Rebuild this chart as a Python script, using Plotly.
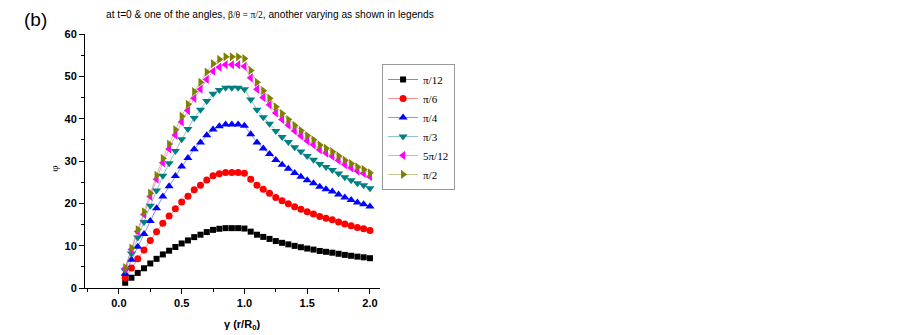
import plotly.graph_objects as go

gamma = [0.05, 0.10, 0.15, 0.20, 0.25, 0.30, 0.35, 0.40, 0.45, 0.50,
         0.55, 0.60, 0.65, 0.70, 0.75, 0.80, 0.85, 0.90, 0.95, 1.00,
         1.05, 1.10, 1.15, 1.20, 1.25, 1.30, 1.35, 1.40, 1.45, 1.50,
         1.55, 1.60, 1.65, 1.70, 1.75, 1.80, 1.85, 1.90, 1.95, 2.00]

phi_pi12 = [1.24, 2.43, 3.57, 4.66, 5.80, 6.89, 7.93, 8.81, 9.69, 10.52,
            11.24, 12.02, 12.59, 13.21, 13.73, 13.99, 14.14, 14.14, 14.14, 14.04,
            13.31, 12.59, 12.07, 11.60, 11.09, 10.67, 10.31, 9.95, 9.63, 9.32,
            9.07, 8.75, 8.55, 8.34, 8.08, 7.82, 7.61, 7.41, 7.25, 7.04]
phi_pi6 = [2.4, 4.7, 6.9, 9.0, 11.2, 13.3, 15.3, 17.0, 18.7, 20.3,
           21.7, 23.2, 24.3, 25.5, 26.5, 27.0, 27.3, 27.3, 27.3, 27.1,
           25.7, 24.3, 23.3, 22.4, 21.4, 20.6, 19.9, 19.2, 18.6, 18.0,
           17.5, 16.9, 16.5, 16.1, 15.6, 15.1, 14.7, 14.3, 14.0, 13.6]
phi_pi4 = [3.39, 6.65, 9.76, 12.73, 15.84, 18.81, 21.63, 24.04, 26.44, 28.70,
           30.68, 32.80, 34.36, 36.06, 37.47, 38.18, 38.60, 38.60, 38.60, 38.32,
           36.34, 34.36, 32.95, 31.67, 30.26, 29.13, 28.14, 27.15, 26.30, 25.45,
           24.75, 23.90, 23.33, 22.77, 22.06, 21.35, 20.79, 20.22, 19.80, 19.23]
phi_pi3 = [4.16, 8.14, 11.95, 15.59, 19.40, 23.04, 26.50, 29.44, 32.39, 35.16,
           37.58, 40.18, 42.09, 44.17, 45.90, 46.76, 47.28, 47.28, 47.28, 46.94,
           44.51, 42.09, 40.36, 38.80, 37.06, 35.68, 34.47, 33.25, 32.22, 31.18,
           30.31, 29.27, 28.58, 27.89, 27.02, 26.15, 25.46, 24.77, 24.25, 23.56]
phi_5pi12 = [4.64, 9.08, 13.33, 17.39, 21.64, 25.70, 29.56, 32.84, 36.13, 39.22,
             41.92, 44.82, 46.95, 49.27, 51.20, 52.16, 52.74, 52.74, 52.74, 52.36,
             49.65, 46.95, 45.02, 43.28, 41.34, 39.80, 38.45, 37.09, 35.94, 34.78,
             33.81, 32.65, 31.88, 31.11, 30.14, 29.17, 28.40, 27.63, 27.05, 26.28]
phi_pi2 = [4.8, 9.4, 13.8, 18.0, 22.4, 26.6, 30.6, 34.0, 37.4, 40.6,
           43.4, 46.4, 48.6, 51.0, 53.0, 54.0, 54.6, 54.6, 54.6, 54.2,
           51.4, 48.6, 46.6, 44.8, 42.8, 41.2, 39.8, 38.4, 37.2, 36.0,
           35.0, 33.8, 33.0, 32.2, 31.2, 30.2, 29.4, 28.6, 28.0, 27.2]

names = ["π/12", "π/6", "π/4", "π/3", "5π/12", "π/2"]
series = [phi_pi12, phi_pi6, phi_pi4, phi_pi3, phi_5pi12, phi_pi2]
colors = ["#000000", "#FF0000", "#0000FF", "#008080", "#FF00FF", "#808000"]
line_colors = ["rgba(0,0,0,0.45)", "rgba(255,0,0,0.45)", "rgba(0,0,255,0.45)",
               "rgba(0,128,128,0.45)", "rgba(255,0,255,0.45)", "rgba(128,128,0,0.45)"]
symbols = ["square", "circle", "triangle-up", "triangle-down", "triangle-left", "triangle-right"]
sizes = [6, 7, 8, 8, 8, 8]

fig = go.Figure()
for nm, ys, c, lc, sym, sz in zip(names, series, colors, line_colors, symbols, sizes):
    fig.add_trace(go.Scatter(
        x=gamma, y=ys, name=nm, mode="lines+markers",
        line=dict(color=lc, width=1),
        marker=dict(symbol=sym, size=sz, color=c, line=dict(width=0)),
    ))

tickfont = dict(family="Liberation Sans", size=11, color="black", weight="bold")

fig.update_layout(
    width=894, height=327,
    margin=dict(l=77, r=522, t=26, b=47),
    paper_bgcolor="white", plot_bgcolor="white",
    showlegend=True,
    legend=dict(
        x=1.007, y=0.882, xanchor="left", yanchor="top",
        bordercolor="#999999", borderwidth=1, bgcolor="white",
        font=dict(family="Liberation Serif", size=11, color="black"),
        itemwidth=30, tracegroupgap=0,
    ),
    xaxis=dict(
        range=[-0.27, 2.08], showgrid=False, zeroline=False,
        showline=True, linecolor="black", linewidth=1,
        ticks="outside", ticklen=5, tickcolor="black",
        tick0=0, dtick=0.5, tickformat=".1f",
        minor=dict(ticks="outside", ticklen=3, dtick=0.25, tick0=0, tickcolor="black"),
        tickfont=tickfont,
    ),
    yaxis=dict(
        range=[0, 60], showgrid=False, zeroline=False,
        showline=True, linecolor="black", linewidth=1,
        ticks="outside", ticklen=5, tickcolor="black",
        tick0=0, dtick=10,
        minor=dict(ticks="outside", ticklen=3, dtick=5, tick0=0, tickcolor="black"),
        tickfont=tickfont,
    ),
    annotations=[
        dict(text="(b)", xref="paper", yref="paper", x=-0.2136, y=1.057,
             xanchor="left", yanchor="middle", showarrow=False,
             font=dict(family="Liberation Sans", size=19, color="black")),
        dict(text="at t=0 & one of the angles, <span style=\"font-family:Liberation Serif;font-size:9.6px\">β/θ = π/2</span>, another varying as shown in legends",
             xref="paper", yref="paper", x=0.628, y=1.075,
             xanchor="center", yanchor="middle", showarrow=False,
             font=dict(family="Liberation Sans", size=10.2, color="black")),
        dict(text="<b>γ (r/R<sub>0</sub>)</b>", xref="paper", yref="paper", x=0.532, y=-0.146,
             xanchor="center", yanchor="middle", showarrow=False,
             font=dict(family="Liberation Sans", size=11, color="black")),
        dict(text="φ", xref="paper", yref="paper", x=-0.108, y=0.47,
             xanchor="center", yanchor="middle", showarrow=False, textangle=-90,
             font=dict(family="Liberation Serif", size=11, color="black")),
    ],
)

fig.write_html("out.html")
